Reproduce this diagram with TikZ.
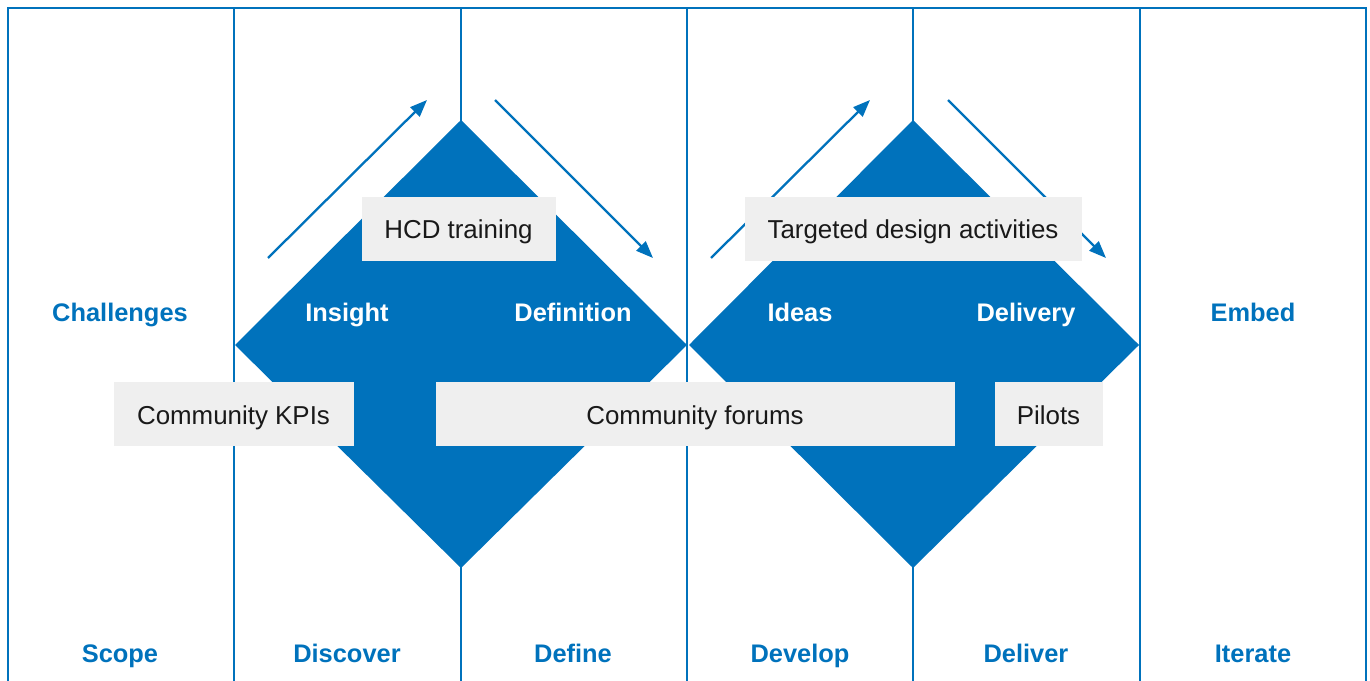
\documentclass[tikz,border=0pt]{standalone}
\usepackage{fontspec}
\setmainfont{Liberation Sans}
\usetikzlibrary{arrows.meta}
\definecolor{hcdblue}{HTML}{0072BC}
\definecolor{boxgrey}{HTML}{EFEFEF}
\begin{document}
\begin{tikzpicture}[x=1bp,y=-1bp,
  frame/.style={draw=hcdblue,line width=2.8bp},
  diam/.style={fill=hcdblue},
  flow/.style={draw=hcdblue,line width=2.3bp,-{Triangle[length=17bp,width=13bp]}},
  greybox/.style={fill=boxgrey,inner sep=0pt,minimum height=64bp},
  greytext/.style={anchor=base,font=\fontsize{26}{30}\selectfont,text=black!90},
  phase/.style={anchor=base,font=\bfseries\fontsize{25.5}{30}\selectfont,text=hcdblue},
  inlabel/.style={anchor=base,font=\bfseries\fontsize{25.5}{30}\selectfont,text=white}]
\useasboundingbox (0,0) rectangle (1370,681);
% frame
\draw[frame] (8,690) -- (8,8) -- (1366,8) -- (1366,690);
\foreach \x in {234,461,687,913,1140} \draw[frame] (\x,8) -- (\x,690);
% diamonds
\fill[diam] (235,345) -- (461,120) -- (687,345) -- (461,568) -- cycle;
\fill[diam] (689,345) -- (913,120) -- (1139,345) -- (913,568) -- cycle;
% arrows
\coordinate (a1s) at (268,258); \coordinate (a1e) at (427,100);
\coordinate (a2s) at (495,100); \coordinate (a2e) at (653,258);
\coordinate (a3s) at (711,258); \coordinate (a3e) at (870,100);
\coordinate (a4s) at (948,100); \coordinate (a4e) at (1106,258);
\draw[flow] (a1s) -- (a1e);
\draw[flow] (a2s) -- (a2e);
\draw[flow] (a3s) -- (a3e);
\draw[flow] (a4s) -- (a4e);
% grey boxes
\node[greybox,minimum width=194bp] (hcd) at (458.5,228.5) {};
\node[greybox,minimum width=337bp] (tda) at (913,228.5) {};
\node[greybox,minimum width=240bp] (kpi) at (233.5,414) {};
\node[greybox,minimum width=519bp] (forum) at (695,414) {};
\node[greybox,minimum width=108bp] (pilot) at (1048.5,414) {};
\node[greytext] (hcdt) at (458.5,238) {HCD training};
\node[greytext] (tdat) at (913,238) {Targeted design activities};
\node[greytext] (kpit) at (233.5,424) {Community KPIs};
\node[greytext] (forumt) at (695,424) {Community forums};
\node[greytext] (pilott) at (1048.5,424) {Pilots};
% labels
\node[phase] (chal) at (120,321) {Challenges};
\node[inlabel] (ins) at (347,321) {Insight};
\node[inlabel] (def) at (573,321) {Definition};
\node[inlabel] (ide) at (800,321) {Ideas};
\node[inlabel] (del) at (1026,321) {Delivery};
\node[phase] (emb) at (1253,321) {Embed};
\node[phase] (sco) at (120,662) {Scope};
\node[phase] (dis) at (347,662) {Discover};
\node[phase] (dfn) at (573,662) {Define};
\node[phase] (dev) at (800,662) {Develop};
\node[phase] (dlv) at (1026,662) {Deliver};
\node[phase] (ite) at (1253,662) {Iterate};
\end{tikzpicture}
\end{document}
